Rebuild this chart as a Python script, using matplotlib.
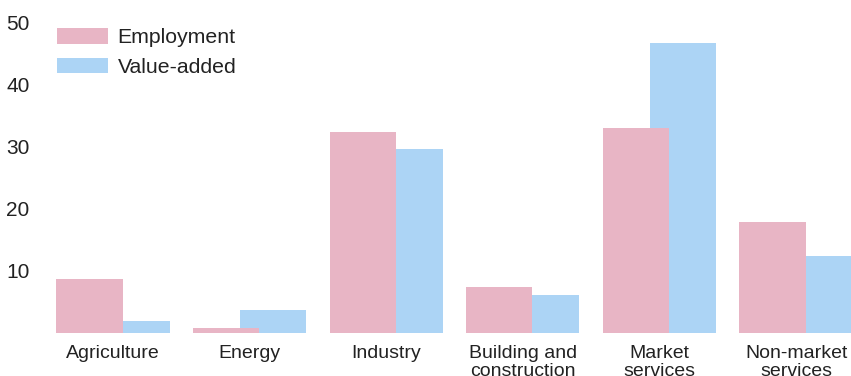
import matplotlib
matplotlib.use("Agg")
import matplotlib.pyplot as plt
import numpy as np

plt.rcParams['font.family'] = ['Liberation Sans', 'DejaVu Sans']

categories = ["Agriculture", "Energy", "Industry", "Building and\nconstruction",
              "Market\nservices", "Non-market\nservices"]
employment = [8.7, 0.8, 32.4, 7.4, 33.1, 17.9]
value_added = [1.9, 3.7, 29.7, 6.1, 46.8, 12.4]
yticks = [10, 20, 30, 40, 50]

pink = "#e8b5c5"
blue = "#acd4f5"

W, H = 851, 376
fig = plt.figure(figsize=(W / 100, H / 100), dpi=100)
ax_left = 45 / W
ax_bottom = (H - 333) / H
ax_height = 322.4 / H
ax = fig.add_axes([ax_left, ax_bottom, 1 - ax_left, ax_height])

x = np.arange(len(categories))
width = 0.485
off = 0.172
ax.bar(x + off, value_added, width, color=blue, label="Value-added", zorder=1)
ax.bar(x - off, employment, width, color=pink, label="Employment", zorder=2)

ax.set_xlim(-0.498, 5.402)
ax.set_ylim(0, 52)
ax.set_yticks(yticks)
ax.set_yticklabels([str(t) for t in yticks], fontsize=15, color="#222222")
ax.set_xticks(x)
ax.set_xticklabels(categories, fontsize=14, color="#222222", linespacing=1.05, va="top")
ax.tick_params(axis="both", length=0)
ax.tick_params(axis="y", pad=11)
ax.tick_params(axis="x", pad=9)
for s in ax.spines.values():
    s.set_visible(False)

handles, labels = ax.get_legend_handles_labels()
leg = ax.legend(handles[::-1], labels[::-1], loc="upper left",
                bbox_to_anchor=(57 / W, 1 - 28 / H), bbox_transform=fig.transFigure,
                frameon=False, fontsize=15.3, handlelength=2.4, handleheight=0.75,
                handletextpad=0.45, labelspacing=0.5, borderpad=0, borderaxespad=0)
for t in leg.get_texts():
    t.set_color("#222222")

fig.savefig("out.png", dpi=100)
